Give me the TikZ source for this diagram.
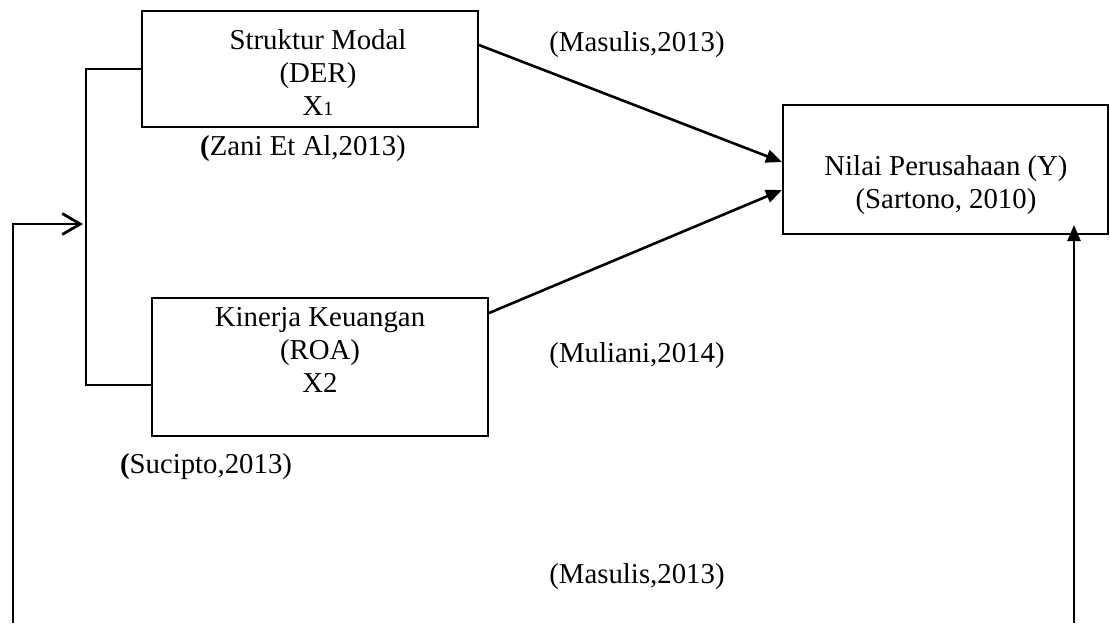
\documentclass[tikz,border=0pt]{standalone}
\usepackage{fontspec}
\setmainfont{Liberation Serif}
\usepackage{tikz}
\usetikzlibrary{arrows.meta}

\begin{document}
\begin{tikzpicture}[
    x=0.5pt, y=-0.5pt,
    font=\fontsize{14.4}{16.5}\selectfont,
    box/.style={
      draw,
      line width=1pt,
      inner sep=0pt
    },
    txt/.style={
      align=center,
      inner sep=0pt
    },
    arrow/.style={-{Triangle[length=8pt, width=6.5pt]}, line width=1.3pt},
    openarrow/.style={-{Straight Barb[length=9pt, width=10.5pt, line width=1.4pt]}, line width=1pt}
  ]
    \useasboundingbox (0,0) rectangle (1110,623);

    % the three variables
    \node[box, minimum width=168pt, minimum height=58pt] (struktur) at (310,69) {};
    \node[txt] (struktur-text) at (318,72)
      {Struktur Modal\\(DER)\\X{\fontsize{10}{10}\selectfont 1}};
    \node[box, minimum width=168pt, minimum height=69pt] (kinerja) at (320,367) {};
    \node[txt] (kinerja-text) at (320,350)
      {Kinerja Keuangan\\(ROA)\\X2};
    \node[box, minimum width=162.5pt, minimum height=64.5pt] (nilai) at (945.5,169.5) {};
    \node[txt] (nilai-text) at (946,185)
      {Nilai Perusahaan (Y)\\(Sartono, 2010)};

    % sources
    \node[txt] (src-masulis-top) at (637,45) {(Masulis,2013)};
    \node[txt] (src-zani) at (303,149) {\textbf{(}Zani Et Al,2013)};
    \node[txt] (src-muliani) at (637,356) {(Muliani,2014)};
    \node[txt] (src-sucipto) at (206,467) {\textbf{(}Sucipto,2013)};
    \node[txt] (src-masulis-bot) at (637,577) {(Masulis,2013)};

    \coordinate (bracket) at (86,224);
    \coordinate (loop-start) at (13,623);
    \coordinate (loop-end) at (1074,623);

    \draw[line width=1pt] (struktur.west) -| (bracket) |- ([yshift=-9pt]kinerja.west);
    \draw[openarrow, shorten >=1.5pt] (loop-start) |- (bracket);

    \draw[arrow] ([yshift=12pt]struktur.east) -- ([yshift=3.75pt]nilai.west);
    \draw[arrow] ([yshift=27pt]kinerja.east) -- ([yshift=-10.25pt]nilai.west);
    \draw[arrow, shorten >=-5pt] (loop-end) -- (loop-end |- nilai.south);
  \end{tikzpicture}
\end{document}
